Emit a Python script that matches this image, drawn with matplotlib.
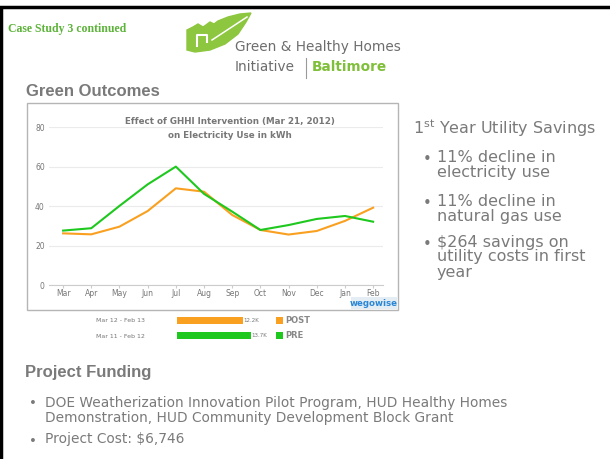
import numpy as np
import matplotlib
matplotlib.use("Agg")
import matplotlib.pyplot as plt
from matplotlib.patches import Rectangle, Polygon

months = ["Mar", "Apr", "May", "Jun", "Jul", "Aug", "Sep", "Oct", "Nov", "Dec", "Jan", "Feb"]
pre = [27.7, 28.9, 40.2, 51.1, 60.1, 46.3, 37.3, 28.0, 30.5, 33.6, 35.1, 32.2]
post = [26.3, 25.8, 29.7, 37.6, 49.1, 47.4, 35.6, 28.0, 25.7, 27.5, 32.6, 39.3]
y_ticks = [0, 20, 40, 60, 80]

periods = ["Mar 12 - Feb 13", "Mar 11 - Feb 12"]
series = ["POST", "PRE"]
totals_k = [12.2, 13.7]

savings = ["11% decline in\nelectricity use",
           "11% decline in\nnatural gas use",
           "$264 savings on\nutility costs in first\nyear"]
funding = ["DOE Weatherization Innovation Pilot Program, HUD Healthy Homes\nDemonstration, HUD Community Development Block Grant",
           "Project Cost: $6,746"]

GREEN = "#1ec81e"
ORANGE = "#f9a020"
GRAY = "#7a7a7a"
LEAF = "#8dc63f"

W, H = 610, 459
fig = plt.figure(figsize=(6.1, 4.59), dpi=100)


def fx(x):
    return np.asarray(x, dtype=float) / W


def fy(y):
    return 1 - np.asarray(y, dtype=float) / H


def box(x0, y0, x1, y1, **kw):
    # rectangle given in pixel coords (top-left origin)
    fig.patches.append(Rectangle((fx(x0), fy(y1)), fx(x1) - fx(x0), fy(y0) - fy(y1),
                                 transform=fig.transFigure, **kw))


def pline(xs, ys, **kw):
    fig.lines.append(plt.Line2D(fx(xs), fy(ys), transform=fig.transFigure, **kw))


# slide border
box(1, 7, 612, 462, fill=False, edgecolor="black", lw=2.5)

# header
fig.text(fx(8), fy(29), "Case Study 3 continued", family="Liberation Serif",
         weight="bold", size=8.5, color="#5db33a", va="center")

# logo: leaf with house silhouette
leaf = np.array([(187, 50), (187, 30), (193, 27), (198, 24), (203, 27), (206, 25),
                 (210, 22), (214, 24), (218, 21), (228, 17), (240, 14), (251, 13),
                 (246, 22), (238, 34), (225, 44), (210, 50), (195, 52)])
fig.patches.append(Polygon(np.column_stack([fx(leaf[:, 0]), fy(leaf[:, 1])]),
                           closed=True, transform=fig.transFigure, color=LEAF))
pline([197, 197, 207, 207], [46, 35, 35, 42], color="white", lw=1.5)
pline([212, 247], [40, 17], color="white", lw=1.1)
fig.text(fx(235), fy(47), "Green & Healthy Homes", size=9.8, color="#6d6d6d", va="center")
fig.text(fx(235), fy(67), "Initiative", size=9.8, color="#6d6d6d", va="center")
pline([306, 306], [58, 78], color="#9a9a9a", lw=0.8)
fig.text(fx(312), fy(67), "Baltimore", size=9.8, weight="bold", color="#7fbf3a", va="center")

fig.text(fx(26), fy(92), "Green Outcomes", family="Liberation Sans", size=12, weight="bold",
         color=GRAY, va="center")

# chart frame
box(27, 103, 398, 310, fill=False, edgecolor="#b5b5b5", lw=1)

ax = fig.add_axes([fx(49), fy(285.3), fx(383) - fx(49), fy(127.3) - fy(285.3)])
x = np.arange(len(months))
ax.plot(x, post, color=ORANGE, lw=1.5, zorder=3)
ax.plot(x, pre, color=GREEN, lw=1.5, zorder=3)
ax.set_xlim(-0.5, 11.35)
ax.set_ylim(0, 80)
ax.set_xticks(x)
ax.set_xticklabels(months, size=5.5, color="#777777")
ax.set_yticks(y_ticks)
ax.set_yticklabels([str(v) for v in y_ticks], size=5.5, color="#777777")
ax.tick_params(axis="y", length=0, pad=3)
ax.tick_params(axis="x", length=2, color="#cccccc", pad=0.8)
ax.grid(axis="y", color="#ebebeb", lw=0.8)
for s in ["top", "right", "left"]:
    ax.spines[s].set_visible(False)
ax.spines["bottom"].set_color("#cccccc")
ax.set_facecolor("none")

fig.text(fx(230), fy(121.5), "Effect of GHHI Intervention (Mar 21, 2012)", size=6.3, weight="bold",
         color="#777777", ha="center", va="center",
         bbox=dict(facecolor="white", edgecolor="none", pad=0.5))
fig.text(fx(230), fy(135), "on Electricity Use in kWh", size=6.3, weight="bold",
         color="#777777", ha="center", va="center")

# wegowise tag
box(351, 297, 397, 309, facecolor="#e4ecf4", edgecolor="none")
fig.text(fx(374), fy(303), "wegowise", size=6.2, weight="bold",
         color="#2a86d4", ha="center", va="center")

# totals bars
bx = fig.add_axes([fx(177), fy(343), fx(277) - fx(177), fy(313) - fy(343)])
bx.barh([0, 1], totals_k, height=0.48, color=[ORANGE, GREEN])
bx.set_xlim(0, 100 / 5.4)
bx.set_ylim(1.5, -0.5)
bx.set_yticks([0, 1])
bx.set_yticklabels(periods, size=4.5, color="#777777")
bx.tick_params(axis="y", length=0, pad=23)
bx.set_xticks([])
for s in bx.spines.values():
    s.set_visible(False)
bx.set_facecolor("none")
for i, v in enumerate(totals_k):
    bx.text(v + 0.15, i, f"{v}K", size=4, color="#777777", va="center")

for i, (name, col) in enumerate(zip(series, [ORANGE, GREEN])):
    yy = 320.5 + 15 * i
    box(276, yy - 3.5, 283, yy + 3.5, facecolor=col, edgecolor="none")
    fig.text(fx(285), fy(yy), name, size=6, weight="bold", color="#888888", va="center")

# right side text
fig.text(fx(413), fy(128), r"1$^{\mathrm{st}}$ Year Utility Savings", size=11.5, color=GRAY, va="center")
ys = [158, 202, 243]
for yy, s in zip(ys, savings):
    fig.text(fx(427), fy(yy + 1), "\u2022", size=10.5, color=GRAY, va="center", ha="center")
    fig.text(fx(437), fy(yy - 8.5), s, size=11.5, color=GRAY, va="top", linespacing=1.0)

# funding
fig.text(fx(25), fy(372), "Project Funding", family="Liberation Sans", size=12, weight="bold",
         color=GRAY, va="center")
for yy, s in zip([403, 440], funding):
    fig.text(fx(33), fy(yy + 1), "\u2022", size=9.5, color=GRAY, va="center", ha="center")
    fig.text(fx(45), fy(yy - 7.5), s, size=9.9, color=GRAY, va="top", linespacing=1.1)

fig.savefig("out.png", dpi=100)
